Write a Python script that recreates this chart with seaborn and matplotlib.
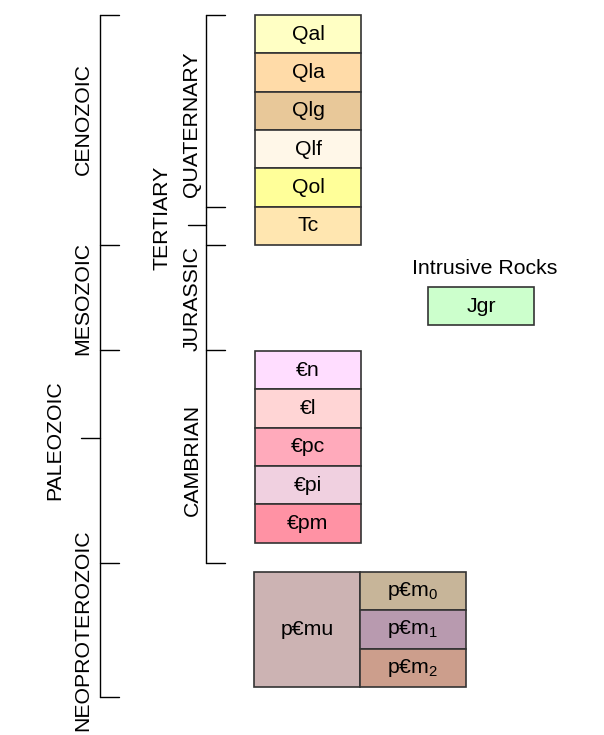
# Correlation of map units chart

import matplotlib
matplotlib.use("Agg")
import matplotlib.pyplot as plt
import seaborn as sns

# map units, top to bottom
upper_units = ["Qal", "Qla", "Qlg", "Qlf", "Qol", "Tc"]
upper_colors = ["#FFFFC4", "#FFDBA8", "#E8C899", "#FFF7E8", "#FFFF99", "#FFE6B0"]

cambrian_units = ["€n", "€l", "€pc", "€pi", "€pm"]
cambrian_colors = ["#FFDDFF", "#FFD5D5", "#FFAABB", "#F0D0E0", "#FF92A4"]

precambrian_main = "p€mu"
precambrian_main_color = "#CCB3B3"
precambrian_units = ["p€m$_\\mathregular{0}$", "p€m$_\\mathregular{1}$", "p€m$_\\mathregular{2}$"]
precambrian_colors = ["#C7B599", "#B89AAF", "#CC9E8C"]

intrusive_title = "Intrusive Rocks"
intrusive_unit = "Jgr"
intrusive_color = "#CCFFCC"

eras = ["CENOZOIC", "MESOZOIC", "PALEOZOIC", "NEOPROTEROZOIC"]
periods = ["QUATERNARY", "TERTIARY", "JURASSIC", "CAMBRIAN"]

# layout (pixels)
ROW_H = 38.3
COL_X = 255
COL_W = 106
UPPER_TOP = 15
CAMBRIAN_TOP = 351
PC_TOP = 572
EDGE = "#333333"
FS = 15.3

sns.set_theme(style="white")
plt.rcParams["font.family"] = ["Liberation Sans", "DejaVu Sans"]
plt.rcParams["text.color"] = "black"
plt.rcParams["mathtext.fontset"] = "custom"
plt.rcParams["mathtext.rm"] = "Liberation Sans"

fig = plt.figure(figsize=(6.04, 7.35), dpi=100)
ax = fig.add_axes([0, 0, 1, 1])
ax.set_xlim(0, 604)
ax.set_ylim(735, 0)
ax.axis("off")


def unit_column(ax, labels, colors, top, x=COL_X, w=COL_W):
    bottoms = [top + i * ROW_H for i in range(len(labels))]
    ax.bar([x + w / 2] * len(labels), [ROW_H] * len(labels), bottom=bottoms,
           width=w, color=colors, edgecolor=EDGE, linewidth=1.2)
    for lab, b in zip(labels, bottoms):
        ax.text(x + w / 2, b + ROW_H / 2, lab, ha="center", va="center",
                fontsize=FS, color="black")


unit_column(ax, upper_units, upper_colors, UPPER_TOP)
unit_column(ax, cambrian_units, cambrian_colors, CAMBRIAN_TOP)

# precambrian block
pc_h = ROW_H * len(precambrian_units)
ax.bar(COL_X - 1 + COL_W / 2, pc_h, bottom=PC_TOP, width=COL_W, color=precambrian_main_color,
       edgecolor=EDGE, linewidth=1.2)
ax.text(COL_X - 1 + COL_W / 2, PC_TOP + pc_h / 2, precambrian_main, ha="center", va="center",
        fontsize=FS, color="black")
unit_column(ax, precambrian_units, precambrian_colors, PC_TOP, x=COL_X - 1 + COL_W)

# intrusive
ax.text(485, 268, intrusive_title, ha="center", va="center", fontsize=FS, color="black")
unit_column(ax, [intrusive_unit], [intrusive_color], 287, x=428)

# brackets
lw = 1.0
era_x = 100
ax.plot([era_x, era_x], [15, 697], color="black", lw=lw)
for y in [15, 245, 350, 563, 697]:
    ax.plot([era_x, era_x + 19], [y, y], color="black", lw=lw)
ax.plot([era_x - 19, era_x], [438, 438], color="black", lw=lw)

per_x = 206
ax.plot([per_x, per_x], [15, 563], color="black", lw=lw)
for y in [15, 207, 245, 350, 563]:
    ax.plot([per_x, per_x + 19], [y, y], color="black", lw=lw)
ax.plot([per_x - 18, per_x], [225, 225], color="black", lw=lw)

# labels
era_pos = [(83, 119), (83, 298), (55, 440), (83, 630)]
for name, (x, y) in zip(eras, era_pos):
    ax.text(x, y, name, rotation=90, ha="center", va="center", fontsize=FS, color="black")
per_pos = [(192, 124), (162, 218), (192, 298), (192, 460)]
for name, (x, y) in zip(periods, per_pos):
    ax.text(x, y, name, rotation=90, ha="center", va="center", fontsize=FS, color="black")

fig.savefig("out.png", dpi=100)
